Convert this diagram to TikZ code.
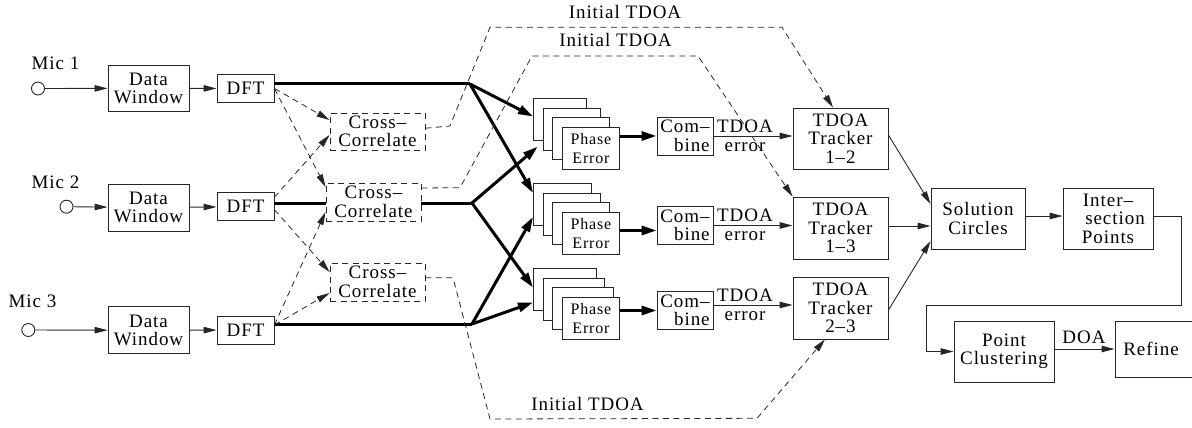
\documentclass[tikz,border=0pt]{standalone}
\usepackage{fontspec}
\setmainfont[LetterSpace=5]{Liberation Serif}
\usetikzlibrary{arrows.meta}
\newcommand\blockfont{\fontsize{19}{18.5}\selectfont}
\newcommand\smallblockfont{\fontsize{16}{19}\selectfont}
\begin{document}
\begin{tikzpicture}[x=1pt,y=-1pt,
  blk/.style={draw=black!85, line width=0.9pt, inner sep=0pt, align=center, font=\blockfont},
  ccbox/.style={blk, dash pattern=on 6pt off 4.5pt},
  pe/.style={draw=black!85, line width=0.9pt, fill=white, inner sep=0pt, anchor=north west, minimum height=42pt},
  mic/.style={draw=black!85, circle, line width=0.9pt, minimum size=13pt, inner sep=0pt},
  lbl/.style={font=\blockfont, inner sep=0pt, anchor=base},
  arr/.style={draw=black!85, line width=0.9pt, -{Triangle[length=13pt,width=6.5pt]}},
  heavy/.style={line width=3pt},
  heavyarr/.style={line width=3pt, -{Triangle[length=15pt,width=9pt]}},
  dasharr/.style={draw=black!85, line width=0.8pt, dash pattern=on 6pt off 4.5pt, -{Triangle[length=13pt,width=6.5pt]}},
]
\useasboundingbox (0,0) rectangle (1192,428);

% microphones, windows and transforms
\node[mic] (mic1) at (38,88.5) {};
\node[mic] (mic2) at (66.5,206.7) {};
\node[mic] (mic3) at (28.3,330) {};
\node[lbl] (m1) at (55.5,70) {Mic 1};
\node[lbl] (m2) at (55.5,188) {Mic 2};
\node[lbl] (m3) at (32.5,307) {Mic 3};

\node[blk, minimum width=81pt, minimum height=46pt] (dw1) at (148.5,88.3) {Data\\Window};
\node[blk, minimum width=81pt, minimum height=47pt] (dw2) at (148.5,207.5) {Data\\Window};
\node[blk, minimum width=81pt, minimum height=47pt] (dw3) at (148.5,330.3) {Data\\Window};

\node[blk, minimum width=57pt, minimum height=28pt] (dft1) at (245.5,88.5) {DFT};
\node[blk, minimum width=57pt, minimum height=28pt] (dft2) at (245.5,206.7) {DFT};
\node[blk, minimum width=57pt, minimum height=28pt] (dft3) at (245.5,330) {DFT};

% cross correlators
\node[ccbox, minimum width=95pt, minimum height=37pt] (cc1) at (377.5,131.5) {Cross--\\Correlate};
\node[ccbox, minimum width=95pt, minimum height=38pt] (cc2) at (373.5,202) {Cross--\\Correlate};
\node[ccbox, minimum width=95pt, minimum height=38pt] (cc3) at (377.5,282) {Cross--\\Correlate};

% fan-out points of the spectra
\coordinate (j1) at (470,84);
\coordinate (j2) at (472,203);
\coordinate (j3) at (472,324);

% phase error stacks
\node[pe, minimum width=53pt] (s1a) at (533,98) {};
\node[pe, minimum width=57pt] (s1b) at (542.7,107.7) {};
\node[pe, minimum width=57pt] (s1c) at (552.3,117.3) {};
\node[pe, minimum width=57pt, align=center, font=\smallblockfont] (s1d) at (562,127) {Phase\\Error};

\node[pe, minimum width=58pt] (s2a) at (533,183) {};
\node[pe, minimum width=57pt] (s2b) at (542.7,192.7) {};
\node[pe, minimum width=57pt] (s2c) at (552.3,202.3) {};
\node[pe, minimum width=57pt, align=center, font=\smallblockfont] (s2d) at (562,212) {Phase\\Error};

\node[pe, minimum width=63pt] (s3a) at (533,268) {};
\node[pe, minimum width=61pt] (s3b) at (542.7,277.7) {};
\node[pe, minimum width=61pt] (s3c) at (552.3,287.3) {};
\node[pe, minimum width=57pt, align=center, font=\smallblockfont] (s3d) at (562,297) {Phase\\Error};

% combiners
\node[blk, align=right, inner xsep=3pt, minimum width=56pt, minimum height=38pt] (c1) at (685,136) {Com--\\bine};
\node[blk, align=right, inner xsep=3pt, minimum width=56pt, minimum height=38pt] (c2) at (685,225.5) {Com--\\bine};
\node[blk, align=right, inner xsep=3pt, minimum width=56pt, minimum height=38pt] (c3) at (685,310.5) {Com--\\bine};

% trackers
\node[blk, minimum width=95pt, minimum height=61pt] (t12) at (840.5,138.5) {TDOA\\Tracker\\1--2};
\node[blk, minimum width=95pt, minimum height=62pt] (t13) at (840.5,228) {TDOA\\Tracker\\1--3};
\node[blk, minimum width=95pt, minimum height=62pt] (t23) at (840.5,308) {TDOA\\Tracker\\2--3};

% geometry stages
\node[blk, minimum width=94pt, minimum height=61pt] (sc) at (978,218.5) {Solution\\Circles};
\node[blk, minimum width=90pt, minimum height=61pt] (ip) at (1108,218.5) {Inter--\\\hspace*{14pt}section\\Points};
\node[blk, minimum width=100pt, minimum height=61pt] (pc) at (1004,351.5) {Point\\Clustering};
\node[blk, minimum width=77pt, minimum height=56pt] (rf) at (1153.5,349) {\hspace*{-5pt}Refine};

% microphone chains
\draw[arr] (mic1) -- (dw1);
\draw[arr] (mic2) -- (dw2);
\draw[arr] (mic3) -- (dw3);
\draw[arr] (dw1) -- (dft1);
\draw[arr] (dw2) -- (dft2);
\draw[arr] (dw3) -- (dft3);

% spectra to the phase error stacks
\draw[heavy] (dft1.east |- j1) -- (j1);
\draw[heavyarr] (j1) -- ([yshift=3pt]s1a.west);
\draw[heavyarr] (j1) -- ([yshift=11.5pt]s2a.west);
\draw[heavy] (dft2.east |- j2) -- (cc2.west |- j2);
\draw[heavy] (cc2.east |- j2) -- (j2);
\draw[heavyarr] (j2) -- ([xshift=-5pt,yshift=-17.5pt]s1b.west);
\draw[heavyarr] (j2) -- ([yshift=2pt]s3a.west);
\draw[heavy] (dft3.east |- j3) -- (j3);
\draw[heavyarr] (j3) -- ([yshift=-12.5pt]s2a.west);
\draw[heavyarr] (j3) -- ([yshift=-13pt]s3a.west);

% spectra to the cross correlators
\draw[dasharr] (dft1.east) -- ([yshift=11.5pt]cc1.west);
\draw[dasharr] (dft1.east) -- ([yshift=15pt]cc2.west);
\draw[dasharr] ([yshift=9.5pt]dft2.east) -- ([yshift=-3.5pt]cc1.west);
\draw[dasharr] ([yshift=-3pt]dft2.east) -- ([yshift=10pt]cc3.west);
\draw[dasharr] ([yshift=5pt]dft3.east) -- ([yshift=-10pt]cc2.west);
\draw[dasharr] ([yshift=5pt]dft3.east) -- ([yshift=-11pt]cc3.west);

% initial delay estimates to the trackers
\draw[dasharr] ([yshift=3.3pt]cc1.east) -- (450,126) -- (490,27.3) -- (782,27.3) -- ([xshift=-7.5pt]t12.north);
\node[lbl] (it1) at (625,18.5) {Initial TDOA};
\draw[dasharr] ([yshift=14pt]cc2.east) -- (460,187.7) -- (532,56) -- (698,56) -- (t13.north west);
\node[lbl] (it2) at (615.5,46.5) {Initial TDOA};
\draw[dasharr] ([yshift=4.3pt]cc3.east) -- (453,277.7) -- (490,419) -- (757,418.3) -- ([xshift=-15.5pt]t23.south);
\node[lbl] (it3) at (587.5,410) {Initial TDOA};

% phase errors to combiners
\coordinate (p1) at (c1.west);
\coordinate (p2) at ([yshift=-5pt]c2.west);
\coordinate (p3) at (c3.west);
\draw[heavyarr] (s1d.east |- p1) -- (p1);
\draw[heavyarr] (s2d.east |- p2) -- (p2);
\draw[heavyarr] (s3d.east |- p3) -- (p3);

% combiners to trackers
\coordinate (e1) at (c1.east);
\coordinate (e2) at (c2.east);
\coordinate (e3) at ([yshift=5.5pt]c3.east);
\draw[arr] (e1) -- (t12.west |- e1);
\draw[arr] (e2) -- (t13.west |- e2);
\draw[arr] (e3) -- (t23.west |- e3);
\node[lbl] (d1) at (745,132) {TDOA};
\node[lbl] (r1) at (745,151.5) {error};
\node[lbl] (d2) at (745,221.5) {TDOA};
\node[lbl] (r2) at (745,240.5) {error};
\node[lbl] (d3) at (745,301) {TDOA};
\node[lbl] (r3) at (745,320.5) {error};

% trackers to solution circles
\draw[arr] ([yshift=3.5pt]t12.east) -- ([yshift=14.5pt]sc.west);
\draw[arr] ([yshift=2pt]t13.east) -- ([yshift=-7.5pt]sc.west);
\draw[arr] ([yshift=-2pt]t23.east) -- ([yshift=-22.5pt]sc.west);

% geometry chain
\draw[arr] ([yshift=2.5pt]sc.east) -- ([yshift=2.5pt]ip.west);
\coordinate (q) at ([yshift=2.5pt]pc.east);
\draw[arr] ([yshift=2.5pt]ip.east) -- (1181,216) -- (1181,305) -- (926,305) |- (pc.west);
\draw[arr] (q) -- (rf.west |- q);
\node[lbl] (doa) at (1084,343) {DOA};
\end{tikzpicture}
\end{document}
